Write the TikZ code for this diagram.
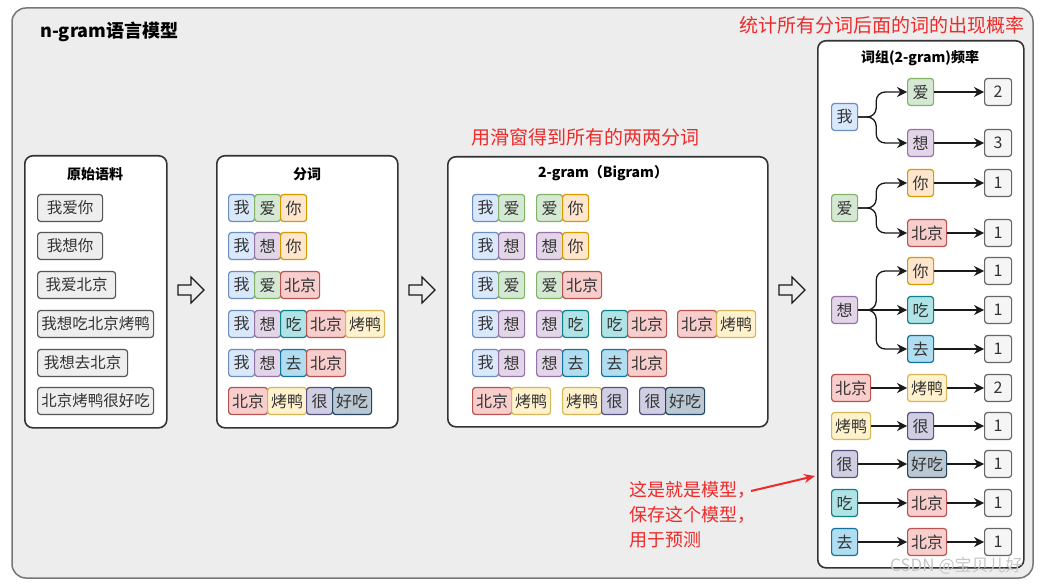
\documentclass[tikz,border=0pt]{standalone}
\usepackage{fontspec}
\setmainfont{Noto Sans CJK SC}
\usetikzlibrary{arrows.meta}
\definecolor{woF}{HTML}{DAE8FC}\definecolor{woD}{HTML}{6C8EBF}
\definecolor{aiF}{HTML}{D5E8D4}\definecolor{aiD}{HTML}{82B366}
\definecolor{niF}{HTML}{FFE6CC}\definecolor{niD}{HTML}{D79B00}
\definecolor{xiF}{HTML}{E1D5E7}\definecolor{xiD}{HTML}{9673A6}
\definecolor{bjF}{HTML}{F8CECC}\definecolor{bjD}{HTML}{B85450}
\definecolor{chiF}{HTML}{B0E3E6}\definecolor{chiD}{HTML}{0E8088}
\definecolor{quF}{HTML}{B1DDF0}\definecolor{quD}{HTML}{10739E}
\definecolor{kyF}{HTML}{FFF2CC}\definecolor{kyD}{HTML}{D6B656}
\definecolor{henF}{HTML}{D0CEE2}\definecolor{henD}{HTML}{56517E}
\definecolor{hcF}{HTML}{BAC8D3}\definecolor{hcD}{HTML}{23445D}
\definecolor{cntF}{HTML}{F5F5F5}\definecolor{cntD}{HTML}{666666}
\definecolor{rawF}{HTML}{EEEEEE}\definecolor{rawD}{HTML}{555555}
\definecolor{txt}{HTML}{333333}
\definecolor{bgG}{HTML}{ECEDEC}\definecolor{bgD}{HTML}{777777}
\definecolor{panD}{HTML}{333333}
\definecolor{arrC}{HTML}{1A1A1A}
\definecolor{noteR}{HTML}{EE2A2A}
\newcommand\mytok[5]{\node[#1] (#2) at (#3,#4) {#5};}
\newcommand\blockarr[2]{\draw[blk] (#1,#2-5) -- (#1+13,#2-5) -- (#1+13,#2-13) -- (#1+26,#2) -- (#1+13,#2+13) -- (#1+13,#2+5) -- (#1,#2+5) -- cycle;}
\begin{document}
\begin{tikzpicture}[x=1pt,y=-1pt,
 tkb/.style={rounded corners=3pt, line width=1.2pt, minimum height=27pt, inner sep=0pt, anchor=west, font=\fontsize{16}{16}\selectfont, text=txt},
 tk1/.style={tkb, minimum width=26pt},
 tk2/.style={tkb, minimum width=39pt},
 kwo/.style={tk1, fill=woF, draw=woD},
 kai/.style={tk1, fill=aiF, draw=aiD},
 kni/.style={tk1, fill=niF, draw=niD},
 kxi/.style={tk1, fill=xiF, draw=xiD},
 kchi/.style={tk1, fill=chiF, draw=chiD},
 kqu/.style={tk1, fill=quF, draw=quD},
 khen/.style={tk1, fill=henF, draw=henD},
 kbj/.style={tk2, fill=bjF, draw=bjD},
 kky/.style={tk2, fill=kyF, draw=kyD},
 khc/.style={tk2, fill=hcF, draw=hcD},
 cnt/.style={tkb, minimum width=27pt, fill=cntF, draw=cntD},
 rawbox/.style={tkb, fill=rawF, draw=rawD, font=\fontsize{15.5}{15.5}\selectfont},
 panel/.style={draw=panD, line width=1.6pt, fill=white, rounded corners=8pt, anchor=north west, inner sep=0pt},
 ptitle/.style={font=\bfseries\fontsize{14}{14}\selectfont, text=black, inner sep=0pt},
 arr/.style={draw=arrC, line width=1.3pt, -{Stealth[length=10pt,width=10pt]}},
 blk/.style={draw=arrC, line width=1.2pt, line join=miter},
 note/.style={text=noteR, font=\fontsize{19}{19}\selectfont, inner sep=0pt}
]
\useasboundingbox (0,0) rectangle (1046,585);
\fill[white] (0,0) rectangle (1046,585);
\draw[fill=bgG, draw=bgD, line width=1.5pt, rounded corners=14pt] (12,8) rectangle (1033,578);
\node[anchor=west, inner sep=0pt, font=\bfseries\fontsize{18}{18}\selectfont] (title) at (40,32) {n-gram语言模型};

% panels
\node[panel, minimum width=142pt, minimum height=272pt] (p1) at (24,155) {};
\node[panel, minimum width=181pt, minimum height=272pt] (p2) at (216,155) {};
\node[panel, minimum width=320pt, minimum height=270pt] (p3) at (447,156) {};
\node[panel, minimum width=206pt, minimum height=527pt] (p4) at (817,40) {};
\node[ptitle] (t1) at (95,174) {原始语料};
\node[ptitle] (t2) at (307,174) {分词};
\node[ptitle] (t3) at (603,173) {2-gram（Bigram）};
\node[ptitle] (t4) at (920,58) {词组(2-gram)频率};

% block arrows
\blockarr{178}{290}
\blockarr{409}{290}
\blockarr{779}{290}

% panel 1
\mytok{rawbox, minimum width=65pt}{a1}{37}{208}{我爱你}
\mytok{rawbox, minimum width=65pt}{a2}{37}{246}{我想你}
\mytok{rawbox, minimum width=78pt}{a3}{37}{285}{我爱北京}
\mytok{rawbox, minimum width=116pt}{a4}{37}{324}{我想吃北京烤鸭}
\mytok{rawbox, minimum width=90pt}{a5}{37}{363}{我想去北京}
\mytok{rawbox, minimum width=116pt}{a6}{37}{401}{北京烤鸭很好吃}

% panel 2
\mytok{kwo}{b11}{228}{208}{我}\mytok{kai}{b12}{254}{208}{爱}\mytok{kni}{b13}{280}{208}{你}
\mytok{kwo}{b21}{228}{246}{我}\mytok{kxi}{b22}{254}{246}{想}\mytok{kni}{b23}{280}{246}{你}
\mytok{kwo}{b31}{228}{285}{我}\mytok{kai}{b32}{254}{285}{爱}\mytok{kbj}{b33}{280}{285}{北京}
\mytok{kwo}{b41}{228}{324}{我}\mytok{kxi}{b42}{254}{324}{想}\mytok{kchi}{b43}{280}{324}{吃}\mytok{kbj}{b44}{306}{324}{北京}\mytok{kky}{b45}{345}{324}{烤鸭}
\mytok{kwo}{b51}{228}{363}{我}\mytok{kxi}{b52}{254}{363}{想}\mytok{kqu}{b53}{280}{363}{去}\mytok{kbj}{b54}{306}{363}{北京}
\mytok{kbj}{b61}{228}{401}{北京}\mytok{kky}{b62}{267}{401}{烤鸭}\mytok{khen}{b63}{306}{401}{很}\mytok{khc}{b64}{332}{401}{好吃}

% panel 3
\node[note, anchor=west] (n1) at (471,137) {用滑窗得到所有的两两分词};
\mytok{kwo}{c11}{472}{208}{我}\mytok{kai}{c12}{498}{208}{爱}
\mytok{kai}{c13}{536}{208}{爱}\mytok{kni}{c14}{562}{208}{你}
\mytok{kwo}{c21}{472}{246}{我}\mytok{kxi}{c22}{498}{246}{想}
\mytok{kxi}{c23}{536}{246}{想}\mytok{kni}{c24}{562}{246}{你}
\mytok{kwo}{c31}{472}{285}{我}\mytok{kai}{c32}{498}{285}{爱}
\mytok{kai}{c33}{536}{285}{爱}\mytok{kbj}{c34}{562}{285}{北京}
\mytok{kwo}{c41}{472}{324}{我}\mytok{kxi}{c42}{498}{324}{想}
\mytok{kxi}{c43}{536}{324}{想}\mytok{kchi}{c44}{562}{324}{吃}
\mytok{kchi}{c45}{601}{324}{吃}\mytok{kbj}{c46}{627}{324}{北京}
\mytok{kbj}{c47}{677}{324}{北京}\mytok{kky}{c48}{716}{324}{烤鸭}
\mytok{kwo}{c51}{472}{363}{我}\mytok{kxi}{c52}{498}{363}{想}
\mytok{kxi}{c53}{536}{363}{想}\mytok{kqu}{c54}{562}{363}{去}
\mytok{kqu}{c55}{601}{363}{去}\mytok{kbj}{c56}{627}{363}{北京}
\mytok{kbj}{c61}{472}{401}{北京}\mytok{kky}{c62}{511}{401}{烤鸭}
\mytok{kky}{c63}{562}{401}{烤鸭}\mytok{khen}{c64}{601}{401}{很}
\mytok{khen}{c65}{639}{401}{很}\mytok{khc}{c66}{665}{401}{好吃}

% panel 4
\node[note, anchor=west] (n2) at (739,25) {统计所有分词后面的词的出现概率};
\mytok{kwo}{s1}{831}{117}{我}
\mytok{kai}{s2}{831}{208}{爱}
\mytok{kxi}{s3}{831}{310}{想}
\mytok{kbj}{s4}{831}{388}{北京}
\mytok{kky}{s5}{831}{426}{烤鸭}
\mytok{khen}{s6}{831}{464}{很}
\mytok{kchi}{s7}{831}{503}{吃}
\mytok{kqu}{s8}{831}{542}{去}

\mytok{kai}{d1}{907}{92}{爱}
\mytok{kxi}{d2}{907}{143}{想}
\mytok{kni}{d3}{907}{183}{你}
\mytok{kbj}{d4}{907}{233}{北京}
\mytok{kni}{d5}{907}{271}{你}
\mytok{kchi}{d6}{907}{310}{吃}
\mytok{kqu}{d7}{907}{349}{去}
\mytok{kky}{d8}{907}{388}{烤鸭}
\mytok{khen}{d9}{907}{426}{很}
\mytok{khc}{d10}{907}{464}{好吃}
\mytok{kbj}{d11}{907}{503}{北京}
\mytok{kbj}{d12}{907}{542}{北京}

\mytok{cnt}{e1}{984}{92}{2}
\mytok{cnt}{e2}{984}{143}{3}
\mytok{cnt}{e3}{984}{183}{1}
\mytok{cnt}{e4}{984}{233}{1}
\mytok{cnt}{e5}{984}{271}{1}
\mytok{cnt}{e6}{984}{310}{1}
\mytok{cnt}{e7}{984}{349}{1}
\mytok{cnt}{e8}{984}{388}{2}
\mytok{cnt}{e9}{984}{426}{1}
\mytok{cnt}{e10}{984}{464}{1}
\mytok{cnt}{e11}{984}{503}{1}
\mytok{cnt}{e12}{984}{542}{1}

\draw[arr, rounded corners=9pt] (s1.east) -- ++(18,0) |- (d1.west);
\draw[arr, rounded corners=9pt] (s1.east) -- ++(18,0) |- (d2.west);
\draw[arr, rounded corners=9pt] (s2.east) -- ++(18,0) |- (d3.west);
\draw[arr, rounded corners=9pt] (s2.east) -- ++(18,0) |- (d4.west);
\draw[arr, rounded corners=9pt] (s3.east) -- ++(18,0) |- (d5.west);
\draw[arr] (s3.east) -- (d6.west);
\draw[arr, rounded corners=9pt] (s3.east) -- ++(18,0) |- (d7.west);
\draw[arr] (s4.east) -- (d8.west);
\draw[arr] (s5.east) -- (d9.west);
\draw[arr] (s6.east) -- (d10.west);
\draw[arr] (s7.east) -- (d11.west);
\draw[arr] (s8.east) -- (d12.west);
\foreach \i in {1,...,12} {\draw[arr] (d\i.east) -- (e\i.west);}

% annotation
\node[note, anchor=north west, align=left, font=\fontsize{18}{25}\selectfont] (n3) at (629,481) {这是就是模型，\\保存这个模型，\\用于预测};
\coordinate (ra) at (751,491);
\coordinate (rb) at (815,476);
\draw[noteR, line width=2pt, -{Stealth[length=11pt,width=9pt]}] (ra) -- (rb);

% watermark
\node[anchor=west, inner sep=0pt, text=black!22, font=\fontsize{17}{17}\selectfont] (wm) at (890,566) {CSDN @宝贝儿好};
\end{tikzpicture}
\end{document}
